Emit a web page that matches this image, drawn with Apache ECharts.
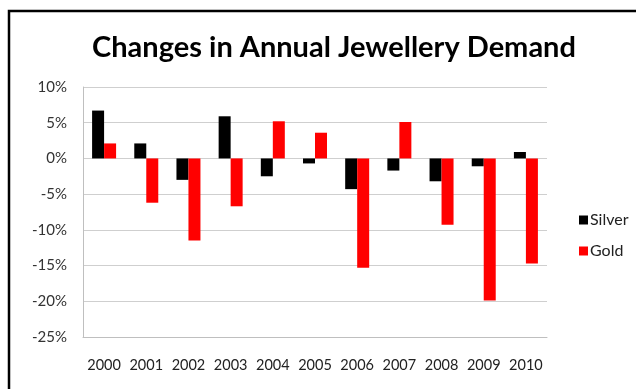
<!DOCTYPE html>
<html><head><meta charset="utf-8">
<script src="https://cdn.jsdelivr.net/npm/echarts@6/dist/echarts.min.js"></script>
<style>html,body{margin:0;padding:0;background:#fff}#c{width:636px;height:389px}</style>
</head><body><div id="c"></div>
<script>
const categories = ['2000','2001','2002','2003','2004','2005','2006','2007','2008','2009','2010'];
const silver = [6.7, 2.1, -3.0, 5.9, -2.5, -0.7, -4.3, -1.7, -3.2, -1.1, 0.9];
const gold = [2.1, -6.2, -11.5, -6.7, 5.2, 3.6, -15.3, 5.1, -9.3, -19.9, -14.7];
const yTicks = {min: -25, max: 10, interval: 5};
const chart = echarts.init(document.getElementById('c'));
const font = 'Lato, "Open Sans", sans-serif';
chart.setOption({
  animation: false,
  title: {text: 'Changes in Annual Jewellery Demand', left: 329, top: 28, textAlign: 'center',
    textStyle: {fontFamily: font, fontSize: 29, fontWeight: 'bold', color: '#000'}},
  graphic: [{type: 'rect', shape: {x: 9, y: 11, width: 640, height: 400},
    style: {fill: 'none', stroke: '#000', lineWidth: 2.5}, silent: true}],
  legend: {orient: 'vertical', left: 574, top: 207, itemWidth: 9, itemHeight: 9, itemGap: 15,
    icon: 'rect', textStyle: {fontFamily: font, fontSize: 16, color: '#222', padding: [0,0,0,-3]},
    data: ['Silver', 'Gold']},
  grid: {left: 83, top: 87, width: 464, height: 250, containLabel: false},
  xAxis: {type: 'category', data: categories, position: 'bottom',
    axisLine: {onZero: false, lineStyle: {color: '#bfbfbf'}}, axisTick: {show: false},
    axisLabel: {fontFamily: font, fontSize: 14.5, color: '#222', margin: 21, interval: 0, hideOverlap: false}},
  yAxis: {type: 'value', min: yTicks.min, max: yTicks.max, interval: yTicks.interval,
    axisLine: {show: true, lineStyle: {color: '#bfbfbf'}}, axisTick: {show: false},
    splitLine: {lineStyle: {color: '#cfcfcf'}},
    axisLabel: {fontFamily: font, fontSize: 15, color: '#333', margin: 16, formatter: v => v + '%'}},
  series: [
    {name: 'Silver', type: 'bar', data: silver, barWidth: 12, barGap: '0%', itemStyle: {color: '#000'}},
    {name: 'Gold', type: 'bar', data: gold, barWidth: 12, itemStyle: {color: '#ff0000'}}
  ]
});
</script></body></html>
